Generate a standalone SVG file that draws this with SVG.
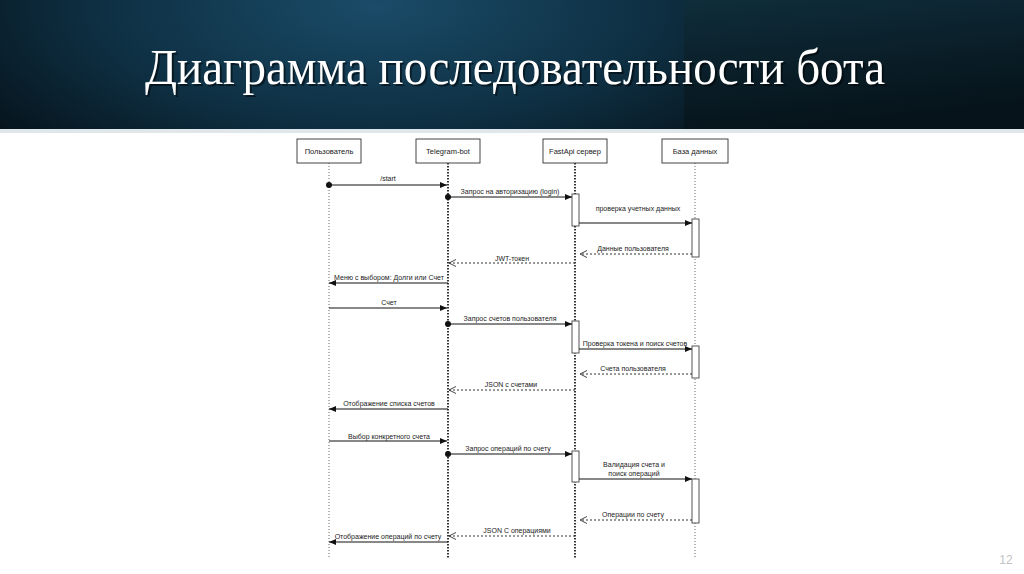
<svg xmlns="http://www.w3.org/2000/svg" width="1024" height="574" viewBox="0 0 1024 574">
<defs>
<radialGradient id="gLeft" cx="0.55" cy="0.05" r="0.75" gradientTransform="translate(0.55 0.05) scale(1 2.2) translate(-0.55 -0.05)">
<stop offset="0" stop-color="#1a4b68"/>
<stop offset="0.55" stop-color="#0e2f42"/>
<stop offset="1" stop-color="#050f16"/>
</radialGradient>
<linearGradient id="gRight" x1="0" y1="0" x2="0.3" y2="1">
<stop offset="0" stop-color="#0f2d3b"/>
<stop offset="1" stop-color="#06131a"/>
</linearGradient>
<marker id="aFill" markerUnits="userSpaceOnUse" markerWidth="8" markerHeight="8" refX="7" refY="3" orient="auto">
<path d="M0,0 L7,3 L0,6 z" fill="#111"/>
</marker>
<marker id="aOpen" markerUnits="userSpaceOnUse" markerWidth="9" markerHeight="9" refX="7" refY="3.5" orient="auto">
<path d="M0,0 L7,3.5 L0,7" fill="none" stroke="#333" stroke-width="0.9"/>
</marker>
<style>
.head{fill:#fff;stroke:#444;stroke-width:1}
.lbl{font-family:"Liberation Sans",Arial,sans-serif;font-size:7px;fill:#222;text-anchor:middle}
.hl{font-family:"Liberation Sans",Arial,sans-serif;font-size:7.5px;fill:#222;text-anchor:middle}
.lt{stroke:#666;stroke-width:1;stroke-dasharray:1 2;fill:none}
.lb{stroke:#111;stroke-width:1.7;stroke-dasharray:1.5 1.5;fill:none}
.act{fill:#fff;stroke:#555;stroke-width:1}
.msg{stroke:#111;stroke-width:1;fill:none;marker-end:url(#aFill)}
.ret{stroke:#333;stroke-width:1;stroke-dasharray:2 2;fill:none;marker-end:url(#aOpen)}
.dot{fill:#111}
</style>
</defs>
<rect x="0" y="0" width="1024" height="574" fill="#fff"/>
<g id="header">
<rect x="0" y="0" width="684" height="130" fill="url(#gLeft)"/>
<rect x="684" y="0" width="340" height="130" fill="url(#gRight)"/>
<rect x="0" y="129" width="1024" height="4" fill="#dfe7ea"/>
<text x="517" y="86" font-family="'Liberation Serif','Times New Roman',serif" font-size="50" fill="#000" opacity="0.5" text-anchor="middle" textLength="740" lengthAdjust="spacingAndGlyphs">Диаграмма последовательности бота</text>
<text x="515" y="84" font-family="'Liberation Serif','Times New Roman',serif" font-size="50" fill="#fff" text-anchor="middle" textLength="740" lengthAdjust="spacingAndGlyphs">Диаграмма последовательности бота</text>
</g>
<g id="lifelines">
<line class="lt" x1="329" y1="163" x2="329" y2="558"/>
<line class="lb" x1="448" y1="163" x2="448" y2="558"/>
<line class="lb" x1="575" y1="163" x2="575" y2="558"/>
<line class="lt" x1="695" y1="163" x2="695" y2="558"/>
</g>
<g id="user"><rect class="head" x="297" y="139" width="64" height="24"/><text class="hl" x="329" y="153.5">Пользователь</text></g>
<g id="bot"><rect class="head" x="416" y="139" width="64" height="24"/><text class="hl" x="448" y="153.5">Telegram-bot</text></g>
<g id="server"><rect class="head" x="543" y="139" width="64" height="24"/><text class="hl" x="575" y="153.5">FastApi сервер</text></g>
<g id="db"><rect class="head" x="662" y="139" width="66" height="24"/><text class="hl" x="695" y="153.5">База данных</text></g>
<g id="activations">
<rect class="act" x="572" y="194" width="7" height="32"/>
<rect class="act" x="692" y="219" width="7" height="38"/>
<rect class="act" x="572" y="321" width="7" height="32"/>
<rect class="act" x="692" y="346" width="7" height="32"/>
<rect class="act" x="572" y="451" width="7" height="31"/>
<rect class="act" x="692" y="479" width="7" height="44"/>
</g>
<g id="connectors">
<circle class="dot" cx="329" cy="185" r="3"/>
<path class="msg" d="M329,185 H447"/>
<circle class="dot" cx="448" cy="197" r="3"/>
<path class="msg" d="M448,197 H572"/>
<path class="msg" d="M579,223 H692"/>
<path class="ret" d="M692,254 H580"/>
<path class="ret" d="M575,263 H449"/>
<path class="msg" d="M448,283 H329"/>
<path class="msg" d="M329,308 H447"/>
<circle class="dot" cx="448" cy="324" r="3"/>
<path class="msg" d="M448,324 H572"/>
<path class="msg" d="M579,349 H692"/>
<path class="ret" d="M692,374 H580"/>
<path class="ret" d="M575,390 H449"/>
<path class="msg" d="M448,409 H329"/>
<path class="msg" d="M329,441 H447"/>
<circle class="dot" cx="448" cy="454" r="3"/>
<path class="msg" d="M448,454 H572"/>
<path class="msg" d="M579,479 H692"/>
<path class="ret" d="M692,520 H580"/>
<path class="ret" d="M575,536 H449"/>
<path class="msg" d="M448,542 H329"/>
</g>
<g id="labels">
<text class="lbl" x="388" y="181">/start</text>
<text class="lbl" x="510" y="193.5">Запрос на авторизацию (login)</text>
<text class="lbl" x="638" y="210.5">проверка учетных данных</text>
<text class="lbl" x="633" y="250.5">Данные пользователя</text>
<text class="lbl" x="512" y="260.5">JWT-токен</text>
<text class="lbl" x="389" y="279.5">Меню с выбором: Долги или Счет</text>
<text class="lbl" x="389" y="304.5">Счет</text>
<text class="lbl" x="510" y="320.5">Запрос счетов пользователя</text>
<text class="lbl" x="635" y="346">Проверка токена и поиск счетов</text>
<text class="lbl" x="633" y="371">Счета пользователя</text>
<text class="lbl" x="511" y="386.5">JSON с счетами</text>
<text class="lbl" x="389" y="405.5">Отображение списка счетов</text>
<text class="lbl" x="389" y="438.5">Выбор конкретного счета</text>
<text class="lbl" x="508" y="450.5">Запрос операций по счету</text>
<text class="lbl" x="634" y="467">Валидация счета и</text>
<text class="lbl" x="634" y="475.5">поиск операций</text>
<text class="lbl" x="633" y="516.5">Операции по счету</text>
<text class="lbl" x="517" y="532.5">JSON С операциями</text>
<text class="lbl" x="388" y="538.5">Отображение операций по счету</text>
</g>
<text x="1006" y="564" font-family="'Liberation Sans',Arial,sans-serif" font-size="12" fill="#c4c4c4" text-anchor="middle">12</text>
</svg>
